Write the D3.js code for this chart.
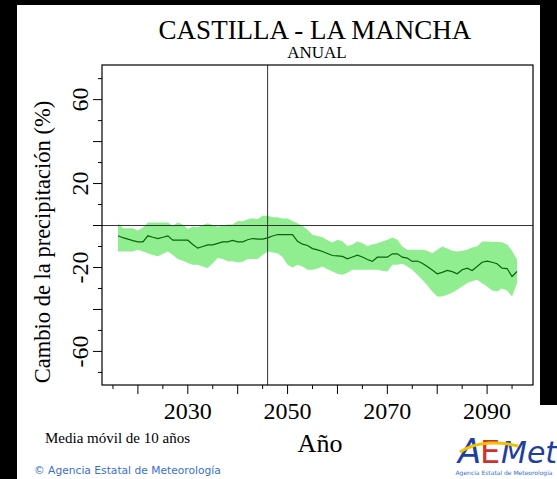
<!DOCTYPE html>
<html>
<head>
<meta charset="utf-8">
<script src="https://cdn.jsdelivr.net/npm/d3@7"></script>
<style>
  body { margin: 0; background: #000; }
  svg { display: block; }
</style>
</head>
<body>
<script>
// años (media movil centrada)
var years = d3.range(2016, 2097);

// cambio medio de precipitacion (%)
var media = [
  -4.9, -5.8, -6.5, -7.2, -7.8, -7.8, -4.9, -5.6, -6.2, -5.6,
  -4.9, -7.0, -7.0, -7.0, -7.0, -9.0, -10.8, -10.0, -9.2, -9.2,
  -8.5, -7.8, -7.8, -7.1, -7.8, -7.8, -6.8, -6.2, -6.5, -6.5,
  -5.9, -5.0, -4.3, -4.3, -4.3, -4.3, -7.5, -8.9, -9.5, -11.0,
  -11.6, -12.4, -13.3, -14.3, -14.5, -14.7, -15.9, -15.0, -14.1, -15.0,
  -16.2, -17.1, -15.1, -15.1, -15.1, -13.5, -13.5, -15.1, -15.5, -17.1,
  -16.9, -18.0, -19.5, -21.2, -23.0, -22.3, -21.4, -22.0, -23.0, -21.1,
  -20.3, -21.4, -19.5, -17.5, -17.0, -17.5, -18.2, -20.3, -20.5, -24.3,
  -21.9
];

// limite superior de la banda
var superior = [
  1.1, -1.3, -1.3, -1.3, -2.4, -1.0, 1.4, 1.5, 1.4, 1.4,
  1.4, -0.1, 1.5, 0.5, -1.7, -0.5, -0.8, 0.3, 1.1, 0.3,
  -0.6, 0.0, 0.5, 0.5, 2.2, 2.0, 3.0, 3.5, 3.0, 4.6,
  4.6, 4.0, 4.0, 3.4, 3.4, 2.2, 1.1, -0.2, -2.0, -4.4,
  -5.0, -5.6, -7.0, -8.1, -6.8, -7.5, -9.7, -9.0, -7.6, -8.5,
  -9.7, -9.0, -8.4, -7.6, -6.8, -5.7, -6.8, -10.0, -11.6, -11.6,
  -11.6, -11.6, -12.0, -13.2, -11.5, -10.0, -11.0, -12.0, -12.4, -12.0,
  -11.6, -10.5, -10.0, -7.6, -7.6, -7.8, -7.8, -8.0, -9.0, -12.0,
  -16.3
];

// limite inferior de la banda
var inferior = [
  -12.4, -12.4, -12.4, -12.4, -11.6, -12.4, -13.2, -14.0, -14.7, -13.5,
  -12.4, -14.0, -16.0, -16.8, -17.9, -18.7, -18.7, -19.5, -20.3, -18.0,
  -15.5, -16.0, -17.0, -17.0, -17.6, -17.3, -16.0, -16.0, -16.0, -14.0,
  -12.4, -12.8, -13.2, -15.0, -18.7, -20.0, -18.7, -19.5, -21.1, -21.1,
  -20.5, -19.5, -20.8, -21.9, -23.0, -23.5, -22.5, -21.1, -21.1, -21.1,
  -21.1, -21.1, -21.1, -21.5, -21.9, -18.7, -18.7, -18.2, -19.5, -21.1,
  -23.5, -25.9, -28.5, -31.4, -33.8, -33.8, -33.0, -32.0, -30.6, -29.0,
  -27.4, -26.5, -25.9, -27.5, -29.0, -31.0, -31.4, -30.0, -31.0, -33.8,
  -27.4
];

var xLabels = [2030, 2050, 2070, 2090];
var yLabels = [60, 20, -20, -60];
var anoActual = 2046;

var width = 557,
    height = 479;

var svg = d3.select("body")
    .append("svg")
    .attr("width", width)
    .attr("height", height);

// fondo blanco con el marco negro de la imagen original
svg.append("rect")
    .attr("x", 17).attr("y", 5)
    .attr("width", 523).attr("height", height - 5)
    .attr("fill", "#fff");
svg.append("rect")
    .attr("x", 17).attr("y", 405)
    .attr("width", width - 17).attr("height", height - 405)
    .attr("fill", "#fff");

var pLeft = 102, pRight = 533, pTop = 65, pBottom = 385;

var x = d3.scaleLinear()
    .domain([2012.8, 2099.2])
    .range([pLeft, pRight]);

var y = d3.scaleLinear()
    .domain([-76, 76.5])
    .range([pBottom, pTop]);

var datos = years.map(function (d, i) {
    return { year: d, media: media[i], sup: superior[i], inf: inferior[i] };
});

// banda
svg.append("path")
    .datum(datos)
    .attr("fill", "#90ee90")
    .attr("d", d3.area()
        .x(function (d) { return x(d.year); })
        .y0(function (d) { return y(d.inf); })
        .y1(function (d) { return y(d.sup); }));

// lineas de referencia
svg.append("line")
    .attr("x1", pLeft).attr("x2", pRight)
    .attr("y1", y(0)).attr("y2", y(0))
    .attr("stroke", "#333").attr("stroke-width", 1);
svg.append("line")
    .attr("x1", x(anoActual)).attr("x2", x(anoActual))
    .attr("y1", pTop).attr("y2", pBottom)
    .attr("stroke", "#333").attr("stroke-width", 1);

// media
svg.append("path")
    .datum(datos)
    .attr("fill", "none")
    .attr("stroke", "#0a640a")
    .attr("stroke-width", 1.2)
    .attr("d", d3.line()
        .x(function (d) { return x(d.year); })
        .y(function (d) { return y(d.media); }));

// marco
svg.append("rect")
    .attr("x", pLeft).attr("y", pTop)
    .attr("width", pRight - pLeft).attr("height", pBottom - pTop)
    .attr("fill", "none")
    .attr("stroke", "#000").attr("stroke-width", 1.2);

// eje x
var xAxis = svg.append("g")
    .attr("transform", "translate(0," + pBottom + ")");
xAxis.selectAll("line")
    .data(d3.range(2015, 2100, 5))
    .enter().append("line")
    .attr("x1", function (d) { return x(d); })
    .attr("x2", function (d) { return x(d); })
    .attr("y1", 0)
    .attr("y2", function (d) { return d % 10 === 0 ? 9 : 4; })
    .attr("stroke", "#000");
xAxis.selectAll("text")
    .data(xLabels)
    .enter().append("text")
    .attr("x", function (d) { return x(d); })
    .attr("y", 34)
    .attr("text-anchor", "middle")
    .style("font-family", "Liberation Serif")
    .style("font-size", "24px")
    .text(function (d) { return d; });

// eje y
var yAxis = svg.append("g")
    .attr("transform", "translate(" + pLeft + ",0)");
yAxis.selectAll("line")
    .data(d3.range(-70, 71, 10))
    .enter().append("line")
    .attr("x1", 0)
    .attr("x2", function (d) { return d % 20 === 0 ? -9 : -4; })
    .attr("y1", function (d) { return y(d); })
    .attr("y2", function (d) { return y(d); })
    .attr("stroke", "#000");
yAxis.selectAll("text")
    .data(yLabels)
    .enter().append("text")
    .attr("transform", function (d) {
        return "translate(-14," + y(d) + ") rotate(-90)";
    })
    .attr("text-anchor", "middle")
    .style("font-family", "Liberation Serif")
    .style("font-size", "24px")
    .text(function (d) { return d; });

// textos
svg.append("text")
    .attr("x", 315).attr("y", 39)
    .attr("text-anchor", "middle")
    .style("font-family", "Liberation Serif")
    .style("font-size", "27px")
    .text("CASTILLA - LA MANCHA");
svg.append("text")
    .attr("x", 317).attr("y", 58)
    .attr("text-anchor", "middle")
    .style("font-family", "Liberation Serif")
    .style("font-size", "17px")
    .text("ANUAL");
svg.append("text")
    .attr("transform", "translate(50,242) rotate(-90)")
    .attr("text-anchor", "middle")
    .style("font-family", "Liberation Serif")
    .style("font-size", "22.5px")
    .text("Cambio de la precipitación (%)");
svg.append("text")
    .attr("x", 320).attr("y", 452)
    .attr("text-anchor", "middle")
    .style("font-family", "Liberation Serif")
    .style("font-size", "26px")
    .text("Año");
svg.append("text")
    .attr("x", 45).attr("y", 443)
    .style("font-family", "Liberation Serif")
    .style("font-size", "15px")
    .text("Media móvil de 10 años");
svg.append("text")
    .attr("x", 34).attr("y", 474)
    .style("font-family", "DejaVu Sans")
    .style("font-size", "10.7px")
    .attr("fill", "#3a6fd0")
    .text("© Agencia Estatal de Meteorología");

// logo AEMet
var logo = svg.append("g").attr("transform", "translate(458,430)");
logo.append("text")
    .attr("x", 0).attr("y", 33)
    .style("font-family", "DejaVu Sans")
    .style("font-style", "italic")
    .style("font-size", "34px")
    .attr("fill", "#1f3fa0")
    .text("A");
logo.append("text")
    .attr("x", 22).attr("y", 33)
    .style("font-family", "DejaVu Sans")
    .style("font-size", "32px")
    .attr("fill", "#d0312d")
    .text("E");
logo.append("text")
    .attr("x", 43).attr("y", 33)
    .style("font-family", "DejaVu Sans")
    .style("font-style", "italic")
    .style("font-size", "30px")
    .attr("fill", "#1f3fa0")
    .text("Met");
logo.append("path")
    .attr("d", "M2,22 C20,10 45,12 60,16")
    .attr("fill", "none")
    .attr("stroke", "#f2c200")
    .attr("stroke-width", 3);
logo.append("text")
    .attr("x", 46).attr("y", 45)
    .attr("text-anchor", "middle")
    .style("font-family", "DejaVu Sans")
    .style("font-size", "6px")
    .attr("fill", "#3a6fd0")
    .text("Agencia Estatal de Meteorología");
</script>
</body>
</html>
